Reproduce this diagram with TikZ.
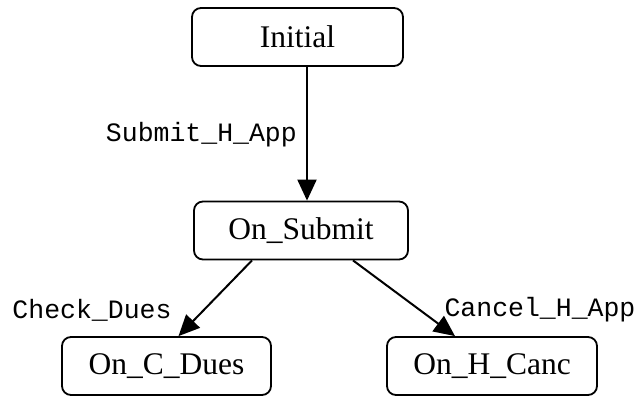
\documentclass[tikz,border=0pt]{standalone}
\usepackage{fontspec}
\setmainfont{Liberation Serif}
\setmonofont{Liberation Mono}
\usetikzlibrary{arrows.meta}
\tikzset{
  statebox/.style={draw, line width=1.8pt, rounded corners=9pt,
    minimum width=#1, minimum height=58pt, inner sep=0pt,
    font=\fontsize{31.5}{31.5}\selectfont},
  evlabel/.style={font=\ttfamily\fontsize{26.5}{26.5}\selectfont, inner sep=0pt},
  trans/.style={line width=2pt, -{Triangle[length=21pt,width=19pt]}}
}
\begin{document}
\begin{tikzpicture}[x=1pt,y=-1pt]
\useasboundingbox (0,0) rectangle (637,398);
% states
\node[statebox=211pt] (init)  at (297.5,37)  {Initial};
\node[statebox=214pt] (sub)   at (301,230.5) {On\_Submit};
\node[statebox=209pt] (cdues) at (166.5,366) {On\_C\_Dues};
\node[statebox=210pt] (hcanc) at (492,366)   {On\_H\_Canc};
% transitions
\coordinate (a1) at ([xshift=9.5pt]init.south);
\draw[trans] (a1) -- (a1 |- sub.north);
\draw[trans] ([xshift=-49pt]sub.south) -- ([xshift=12pt]cdues.north);
\draw[trans] ([xshift=52pt]sub.south) -- ([xshift=-37pt]hcanc.north);
% events
\node[evlabel, anchor=east] (l1) at (297,135) {Submit\_H\_App};
\node[evlabel] (l2) at (92,310)  {Check\_Dues};
\node[evlabel] (l3) at (540,310) {Cancel\_H\_App};
\end{tikzpicture}
\end{document}
